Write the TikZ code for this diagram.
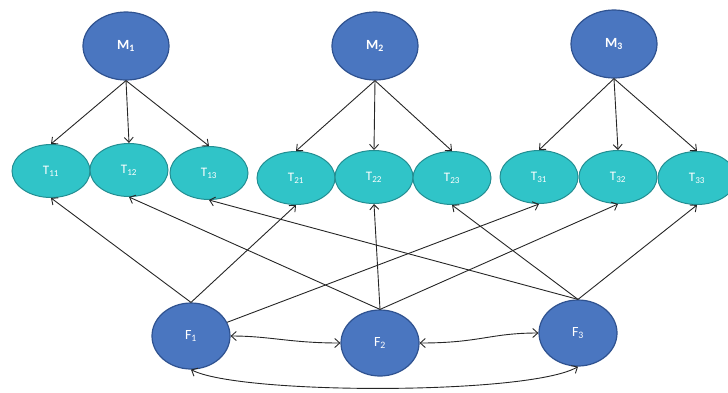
\documentclass[tikz,border=0pt]{standalone}
\usepackage{fontspec}
\setmainfont{Carlito}
\usetikzlibrary{shapes.geometric,arrows.meta}
\definecolor{mblue}{HTML}{4A76C0}
\definecolor{mbord}{HTML}{2F5290}
\definecolor{tcyan}{HTML}{30C4C8}
\definecolor{tbord}{HTML}{238E92}
\definecolor{edge}{HTML}{262626}
\newcommand{\sbs}[1]{\textsubscript{#1}}
\tikzset{
  mnode/.style={ellipse,fill=mblue,draw=mbord,line width=1.2pt,minimum width=86pt,minimum height=68pt,inner sep=0pt,text=white,font=\fontsize{14}{14}\selectfont\bfseries},
  fnode/.style={ellipse,fill=mblue,draw=mbord,line width=1.2pt,minimum width=78pt,minimum height=66pt,inner sep=0pt,text=white,font=\fontsize{14}{14}\selectfont},
  tnode/.style={ellipse,fill=tcyan,draw=tbord,line width=1pt,minimum width=78pt,minimum height=53pt,inner sep=0pt,text=white,font=\fontsize{13}{13}\selectfont},
  arr/.style={draw=edge,line width=0.9pt,-{Straight Barb[length=5pt,width=9pt]}},
  darr/.style={draw=edge,line width=0.9pt,{Straight Barb[length=5pt,width=9pt]}-{Straight Barb[length=5pt,width=9pt]}},
}
\begin{document}
\begin{tikzpicture}[x=1pt,y=-1pt]
\useasboundingbox (0,0) rectangle (728,392);
\node[mnode] (M1) at (126,46) {M\sbs{1}};
\node[mnode] (M2) at (375,46) {M\sbs{2}};
\node[mnode] (M3) at (614,44) {M\sbs{3}};
\node[tnode] (T11) at (51,171) {T\sbs{11}};
\node[tnode] (T12) at (129,170) {T\sbs{12}};
\node[tnode] (T13) at (209,173) {T\sbs{13}};
\node[tnode] (T21) at (296,178) {T\sbs{21}};
\node[tnode] (T22) at (374,177) {T\sbs{22}};
\node[tnode] (T23) at (452,178) {T\sbs{23}};
\node[tnode] (T31) at (539,177) {T\sbs{31}};
\node[tnode] (T32) at (618,177) {T\sbs{32}};
\node[tnode] (T33) at (697,178) {T\sbs{33}};
\node[fnode] (F1) at (191,336) {F\sbs{1}};
\node[fnode] (F2) at (380,343) {F\sbs{2}};
\node[fnode] (F3) at (578,333) {F\sbs{3}};
\foreach \m in {1,2,3}{
  \foreach \t in {1,2,3}{
    \draw[arr] (M\m.south) -- (T\m\t.north);
  }
}
\draw[arr] (F1.north) -- (T11.south);
\draw[arr] (F1.north) -- (T21.south);
\draw[arr] (F1) -- (T31.south);
\draw[arr] (F2.north) -- (T12.south);
\draw[arr] (F2.north) -- (T22.south);
\draw[arr] (F2.north) -- (T32.south);
\draw[arr] (F3.north) -- (T13.south);
\draw[arr] (F3.north) -- (T23.south);
\draw[arr] (F3.north) -- (T33.south);
\draw[darr] (F1.east) .. controls (270,336) and (290,343) .. (F2.west);
\draw[darr] (F2.east) .. controls (480,343) and (490,333) .. (F3.west);
\draw[darr] (F1.south) .. controls (240,395) and (530,395) .. (F3.south);
\end{tikzpicture}
\end{document}
